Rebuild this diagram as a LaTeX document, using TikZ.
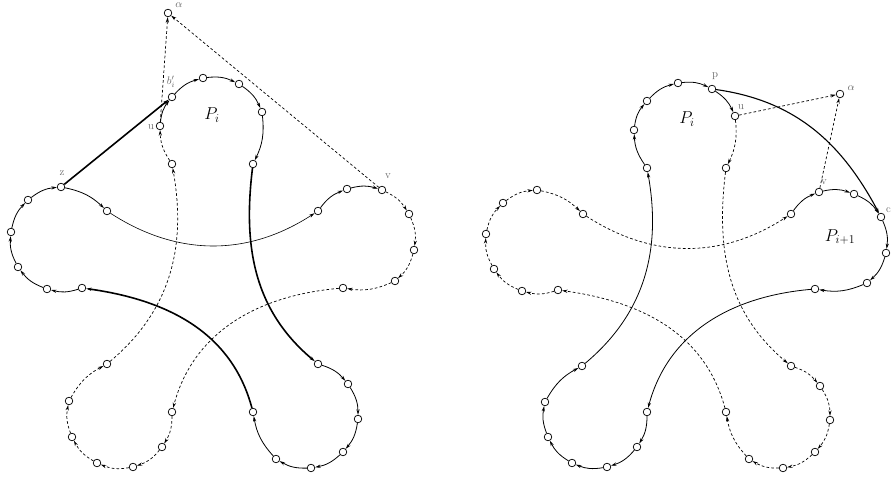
\documentclass[tikz,border=0pt]{standalone}
\usetikzlibrary{arrows.meta}
\begin{document}
\begin{tikzpicture}[x=1bp,y=1bp,
  vtx/.style={circle,draw,fill=white,inner sep=0pt,minimum size=7.6bp,line width=0.7bp},
  arr/.style={-{Stealth[length=5.5bp,width=3.2bp]}},
  seg/.style={arr,line width=0.8bp},
  dseg/.style={arr,line width=0.7bp,dash pattern=on 2.7bp off 2.2bp},
  thk/.style={arr,line width=1.6bp},
  thn/.style={arr,line width=0.6bp},
  pet/.style={bend left=16},
  lbl/.style={text=black!60,font=\fontsize{11}{12}\selectfont,inner sep=0pt},
  bigl/.style={font=\fontsize{17}{19}\selectfont,inner sep=0pt}
]
\useasboundingbox (0,0) rectangle (891,480);

% ================= LEFT FIGURE =================
% top petal
\node[vtx] (a1) at (172,316) {};
\node[vtx] (u1) at (160,354) {};
\node[vtx] (b1) at (172,383) {};
\node[vtx] (a2) at (203,402) {};
\node[vtx] (a3) at (239,396) {};
\node[vtx] (a4) at (262,368) {};
\node[vtx] (a5) at (253,316) {};
% bottom-right petal
\node[vtx] (c1) at (318,116) {};
\node[vtx] (c2) at (348,96) {};
\node[vtx] (c3) at (358,61) {};
\node[vtx] (c4) at (343,28) {};
\node[vtx] (c5) at (311,12) {};
\node[vtx] (c6) at (276,21) {};
\node[vtx] (c7) at (253,68) {};
% left petal
\node[vtx] (d1) at (82,192) {};
\node[vtx] (d2) at (47,191) {};
\node[vtx] (d3) at (18,213) {};
\node[vtx] (d4) at (11,248) {};
\node[vtx] (d5) at (28,280) {};
\node[vtx] (z1) at (61,293) {};
\node[vtx] (d7) at (107,269) {};
% right petal
\node[vtx] (e1) at (318,269) {};
\node[vtx] (e2) at (347,291) {};
\node[vtx] (v1) at (382,290) {};
\node[vtx] (e4) at (409,266) {};
\node[vtx] (e5) at (414,230) {};
\node[vtx] (e6) at (395,199) {};
\node[vtx] (e7) at (343,192) {};
% bottom-left petal
\node[vtx] (f1) at (172,68) {};
\node[vtx] (f2) at (162,33) {};
\node[vtx] (f3) at (133,13) {};
\node[vtx] (f4) at (97,17) {};
\node[vtx] (f5) at (72,43) {};
\node[vtx] (f6) at (69,79) {};
\node[vtx] (f7) at (107,116) {};
% alpha
\node[vtx] (al1) at (168,467) {};

% labels
\node[lbl] (lal1) at (179,475) {$\alpha$};
\node[lbl] (lb1) at (171,398) {$b'_i$};
\node[lbl] (lu1) at (151,353) {u};
\node[lbl] (lz1) at (62,307) {z};
\node[lbl] (lv1) at (388,304) {v};
\node[bigl] (lP1) at (212,365) {$P_i$};

% connectors
\draw[dseg] (a1) to[pet] (u1);
\draw[seg] (u1) to[pet] (b1);
\draw[seg] (b1) to[pet] (a2);
\draw[seg] (a2) to[pet] (a3);
\draw[seg] (a3) to[pet] (a4);
\draw[seg] (a4) to[pet] (a5);
\draw[thk] (a5) to[out=-97,in=140] (c1);
\draw[seg] (c1) to[pet] (c2);
\draw[seg] (c2) to[pet] (c3);
\draw[seg] (c3) to[pet] (c4);
\draw[seg] (c4) to[pet] (c5);
\draw[seg] (c5) to[pet] (c6);
\draw[seg] (c6) to[pet] (c7);
\draw[thk] (c7) to[out=105,in=-8] (d1);
\draw[seg] (d1) to[pet] (d2);
\draw[seg] (d2) to[pet] (d3);
\draw[seg] (d3) to[pet] (d4);
\draw[seg] (d4) to[pet] (d5);
\draw[seg] (d5) to[pet] (z1);
\draw[seg] (z1) to[pet] (d7);
\draw[thn] (d7) to[out=-33,in=-147] (e1);
\draw[seg] (e1) to[pet] (e2);
\draw[seg] (e2) to[pet] (v1);
\draw[dseg] (v1) to[pet] (e4);
\draw[dseg] (e4) to[pet] (e5);
\draw[dseg] (e5) to[pet] (e6);
\draw[dseg] (e6) to[pet] (e7);
\draw[dseg] (e7) to[out=185,in=75] (f1);
\draw[dseg] (f1) to[pet] (f2);
\draw[dseg] (f2) to[pet] (f3);
\draw[dseg] (f3) to[pet] (f4);
\draw[dseg] (f4) to[pet] (f5);
\draw[dseg] (f5) to[pet] (f6);
\draw[dseg] (f6) to[pet] (f7);
\draw[dseg] (f7) to[out=40,in=-80] (a1);
% extra
\draw[thk] (z1) -- (b1);
\draw[dseg] (u1) -- (al1);
\draw[dseg] (v1) -- (al1);

% ================= RIGHT FIGURE =================
\node[vtx] (A1) at (647,312) {};
\node[vtx] (A2) at (634,350) {};
\node[vtx] (A3) at (647,379) {};
\node[vtx] (A4) at (678,397) {};
\node[vtx] (p2) at (712,391) {};
\node[vtx] (u2) at (735,364) {};
\node[vtx] (A7) at (726,312) {};
\node[vtx] (C1) at (791,114) {};
\node[vtx] (C2) at (820,94) {};
\node[vtx] (C3) at (830,60) {};
\node[vtx] (C4) at (815,28) {};
\node[vtx] (C5) at (783,12) {};
\node[vtx] (C6) at (749,21) {};
\node[vtx] (C7) at (726,68) {};
\node[vtx] (D1) at (558,190) {};
\node[vtx] (D2) at (522,189) {};
\node[vtx] (D3) at (494,211) {};
\node[vtx] (D4) at (486,246) {};
\node[vtx] (D5) at (503,277) {};
\node[vtx] (D6) at (537,290) {};
\node[vtx] (D7) at (583,266) {};
\node[vtx] (E1) at (791,266) {};
\node[vtx] (v2) at (819,288) {};
\node[vtx] (E3) at (854,286) {};
\node[vtx] (c2x) at (881,263) {};
\node[vtx] (E5) at (886,227) {};
\node[vtx] (E6) at (867,197) {};
\node[vtx] (E7) at (815,191) {};
\node[vtx] (F1) at (647,68) {};
\node[vtx] (F2) at (637,33) {};
\node[vtx] (F3) at (607,13) {};
\node[vtx] (F4) at (572,17) {};
\node[vtx] (F5) at (548,43) {};
\node[vtx] (F6) at (545,78) {};
\node[vtx] (F7) at (582,114) {};
\node[vtx] (al2) at (840,386) {};

\node[lbl] (lp2) at (715,404) {p};
\node[lbl] (lu2) at (741,373) {u};
\node[lbl] (lal2) at (851,392) {$\alpha$};
\node[lbl] (lv2) at (824,298) {v};
\node[lbl,anchor=west] (lc2) at (886,270) {c};
\node[bigl] (lP2) at (687,361) {$P_i$};
\node[bigl] (lP3) at (840,243) {$P_{i+1}$};

\draw[seg] (A1) to[pet] (A2);
\draw[seg] (A2) to[pet] (A3);
\draw[seg] (A3) to[pet] (A4);
\draw[seg] (A4) to[pet] (p2);
\draw[seg] (p2) to[pet] (u2);
\draw[dseg] (u2) to[pet] (A7);
\draw[dseg] (A7) to[out=-97,in=140] (C1);
\draw[dseg] (C1) to[pet] (C2);
\draw[dseg] (C2) to[pet] (C3);
\draw[dseg] (C3) to[pet] (C4);
\draw[dseg] (C4) to[pet] (C5);
\draw[dseg] (C5) to[pet] (C6);
\draw[dseg] (C6) to[pet] (C7);
\draw[dseg] (C7) to[out=105,in=-8] (D1);
\draw[dseg] (D1) to[pet] (D2);
\draw[dseg] (D2) to[pet] (D3);
\draw[dseg] (D3) to[pet] (D4);
\draw[dseg] (D4) to[pet] (D5);
\draw[dseg] (D5) to[pet] (D6);
\draw[dseg] (D6) to[pet] (D7);
\draw[dseg] (D7) to[out=-33,in=-147] (E1);
\draw[seg] (E1) to[pet] (v2);
\draw[seg] (v2) to[pet] (E3);
\draw[seg] (E3) to[pet] (c2x);
\draw[seg] (c2x) to[pet] (E5);
\draw[seg] (E5) to[pet] (E6);
\draw[seg] (E6) to[pet] (E7);
\draw[seg] (E7) to[out=185,in=75] (F1);
\draw[seg] (F1) to[pet] (F2);
\draw[seg] (F2) to[pet] (F3);
\draw[seg] (F3) to[pet] (F4);
\draw[seg] (F4) to[pet] (F5);
\draw[seg] (F5) to[pet] (F6);
\draw[seg] (F6) to[pet] (F7);
\draw[seg] (F7) to[out=40,in=-80] (A1);
% extra
\draw[arr,line width=1.1bp] (p2) to[out=-8,in=118] (c2x);
\draw[dseg] (u2) -- (al2);
\draw[dseg] (v2) -- (al2);
\end{tikzpicture}
\end{document}
